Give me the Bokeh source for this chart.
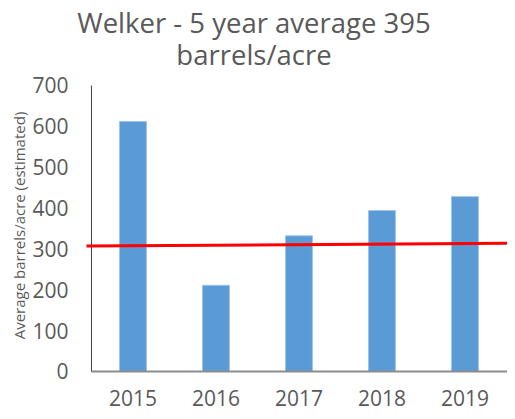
import math
from bokeh.plotting import figure
from bokeh.models import Range1d, ColumnDataSource, Title
from bokeh.core.properties import value
from bokeh.embed import file_html
from bokeh.resources import INLINE

years = ["2015", "2016", "2017", "2018", "2019"]
barrels = [612, 211, 332, 394, 428]
trend_start = 307
trend_end = 314
y_ticks = [0, 100, 200, 300, 400, 500, 600, 700]
title_line1 = "Welker - 5 year average 395"
title_line2 = "barrels/acre"
y_label = "Average barrels/acre (estimated)"

FONT = "Open Sans"
TXT = "#595959"
W, H = 507, 411

x_pos = list(range(len(years)))
xs, x0, x1 = -1.596, -0.56, 4.5125
y_top = y_ticks[-1]

p = figure(width=W, height=H, output_backend="svg", toolbar_location=None,
           x_axis_location=None, y_axis_location=None,
           x_range=Range1d(xs, x1), y_range=Range1d(-97.9, 731.8),
           min_border_left=0, min_border_right=0, min_border_top=72,
           min_border_bottom=0)
p.outline_line_color = None
p.grid.visible = False
p.background_fill_color = "white"
p.border_fill_color = "white"

src = ColumnDataSource(dict(x=x_pos, top=barrels, label=years, base=[0] * len(years)))
p.vbar(x="x", top="top", bottom=0, width=0.325, source=src,
       fill_color="#5B9BD5", line_color="#9fc3ea", line_width=1)

# axis lines
p.segment(x0=[-0.5], y0=[0], x1=[x1], y1=[0], line_color="#8c8c8c", line_width=2)
p.segment(x0=[-0.5], y0=[0], x1=[-0.5], y1=[y_top], line_color="#404040", line_width=1)

# average line
p.line(x=[x0, x1], y=[trend_start, trend_end], line_color="#FF0000", line_width=3)

# category labels
p.text(x="x", y="base", text="label", source=src, text_font=value(FONT),
       text_font_size="21px", text_color=TXT, text_align="center",
       text_baseline="middle", y_offset=27)

# y tick labels
tsrc = ColumnDataSource(dict(x=[-0.5] * len(y_ticks), y=y_ticks,
                             t=[str(v) for v in y_ticks]))
p.text(x="x", y="y", text="t", source=tsrc, text_font=value(FONT),
       text_font_size="21px", text_color=TXT, text_align="right",
       text_baseline="middle", x_offset=-23)

# y axis title
p.text(x=[xs], y=[y_top / 2], text=[y_label], angle=math.pi / 2,
       text_font=value(FONT), text_font_size="15px", text_color=TXT,
       text_align="center", text_baseline="middle", x_offset=18, y_offset=-3)

p.add_layout(Title(text=title_line2, align="center", text_font=FONT,
                   text_font_size="27.5px", text_font_style="normal",
                   text_color=TXT, standoff=-1), "above")
p.add_layout(Title(text=title_line1, align="center", text_font=FONT,
                   text_font_size="27.5px", text_font_style="normal",
                   text_color=TXT, standoff=-12), "above")

open("out.html", "w").write(file_html(p, INLINE))
